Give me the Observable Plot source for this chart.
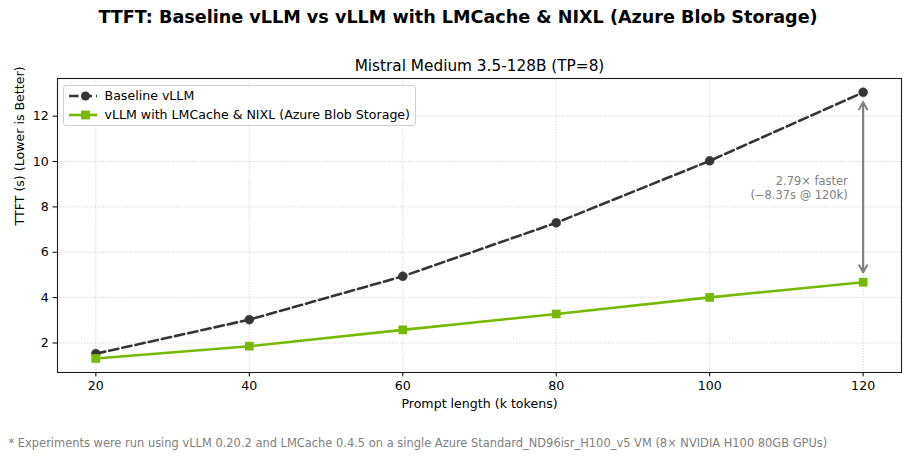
<!DOCTYPE html>
<html>
<head>
<meta charset="utf-8">
<script src="https://cdn.jsdelivr.net/npm/d3@7"></script>
<script src="https://cdn.jsdelivr.net/npm/@observablehq/plot@0.6"></script>
<style>
  html, body { margin: 0; padding: 0; background: #fff; }
  #wrap { position: relative; width: 914px; height: 457px; font-family: "DejaVu Sans", sans-serif; }
  #legend { position: absolute; left: 62.5px; top: 85px; width: 353px; height: 41px; box-sizing: border-box;
    border: 1px solid #d0d0d0; border-radius: 3px; background: rgba(255,255,255,0.85); font-size: 12.6px; color: #000; }
  .row { position: absolute; left: 0; height: 16px; }
  .row svg { position: absolute; left: 4px; top: 0; }
  .row span { position: absolute; left: 41px; white-space: nowrap; line-height: 16px; }
</style>
</head>
<body>
<div id="wrap"></div>
<script>
const prompts = [20, 40, 60, 80, 100, 120];
const baselineTTFT = [1.53, 3.03, 4.94, 7.30, 10.03, 13.05];
const lmcacheTTFT = [1.32, 1.86, 2.58, 3.28, 4.01, 4.68];
const xTicks = [20, 40, 60, 80, 100, 120];
const yTicks = [2, 4, 6, 8, 10, 12];
const seriesNames = ["Baseline vLLM", "vLLM with LMCache & NIXL (Azure Blob Storage)"];
const titleText = "TTFT: Baseline vLLM vs vLLM with LMCache & NIXL (Azure Blob Storage)";
const subtitleText = "Mistral Medium 3.5-128B (TP=8)";
const xLabel = "Prompt length (k tokens)";
const yLabel = "TTFT (s) (Lower is Better)";
const footText = "* Experiments were run using vLLM 0.20.2 and LMCache 0.4.5 on a single Azure Standard_ND96isr_H100_v5 VM (8× NVIDIA H100 80GB GPUs)";
const annotLines = ["2.79× faster", "(−8.37s @ 120k)"];

const base = prompts.map((x, i) => ({x, y: baselineTTFT[i]}));
const cache = prompts.map((x, i) => ({x, y: lmcacheTTFT[i]}));
const last = prompts.length - 1;
const gap = [{x: prompts[last], yb: baselineTTFT[last], yc: lmcacheTTFT[last]}];

const dark = "#353535";
const green = "#76b900";
const gray = "#808080";

const chart = Plot.plot({
  width: 914,
  height: 457,
  marginLeft: 57,
  marginRight: 13,
  marginTop: 78,
  marginBottom: 85,
  style: {fontFamily: "DejaVu Sans, sans-serif", background: "#fff"},
  x: {domain: [15, 125]},
  y: {domain: [0.70, 13.66]},
  marks: [
    Plot.gridX(xTicks, {stroke: "#b8b8b8", strokeOpacity: 0.9, strokeDasharray: "1,1.7", strokeWidth: 0.8}),
    Plot.gridY(yTicks, {stroke: "#b8b8b8", strokeOpacity: 0.9, strokeDasharray: "1,1.7", strokeWidth: 0.8}),
    Plot.frame({stroke: "#1a1a1a", strokeWidth: 1.1}),
    Plot.axisX(xTicks, {tickSize: 4.4, tickPadding: 4.4, fontSize: 12.6, label: null}),
    Plot.axisY(yTicks, {tickSize: 4.4, tickPadding: 4.4, fontSize: 12.6, label: null}),
    Plot.text([xLabel], {frameAnchor: "bottom", dy: 31, lineAnchor: "middle", fontSize: 12.6, text: d => d}),
    Plot.text([yLabel], {frameAnchor: "left", dx: -38, rotate: -90, lineAnchor: "middle", fontSize: 12.6, text: d => d}),
    Plot.text([titleText], {frameAnchor: "top", dx: -21.5, dy: -61, lineAnchor: "middle", fontSize: 17.6, fontWeight: "bold", text: d => d}),
    Plot.text([subtitleText], {frameAnchor: "top", dy: -12, lineAnchor: "middle", fontSize: 15.3, text: d => d}),
    Plot.text([footText], {frameAnchor: "bottom-left", dx: -49, dy: 71, lineAnchor: "middle", textAnchor: "start", fontSize: 11.45, fill: gray, text: d => d}),
    Plot.line(base, {x: "x", y: "y", stroke: dark, strokeWidth: 2.6, strokeDasharray: "9.5,4"}),
    Plot.line(cache, {x: "x", y: "y", stroke: green, strokeWidth: 2.6}),
    Plot.dot(base, {x: "x", y: "y", r: 4.5, fill: dark, stroke: dark, strokeWidth: 0.5}),
    Plot.dot(cache, {x: "x", y: "y", r: 4.9, symbol: "square", fill: green}),
    Plot.arrow(gap, {x1: "x", x2: "x", y1: "yc", y2: "yb", insetStart: 10, insetEnd: 10, stroke: gray, strokeWidth: 2, headLength: 6}),
    Plot.arrow(gap, {x1: "x", x2: "x", y1: "yb", y2: "yc", insetStart: 10, insetEnd: 10, stroke: gray, strokeWidth: 2, headLength: 6}),
    Plot.text(gap, {x: "x", y: d => (d.yb + d.yc) / 2, dx: -15.5, textAnchor: "end", lineAnchor: "middle", lineHeight: 1.2, fontSize: 11.45, fill: gray, text: () => annotLines.join("\n")})
  ]
});

const wrap = document.getElementById("wrap");
wrap.appendChild(chart);

const legend = document.createElement("div");
legend.id = "legend";
const legendItems = [
  {name: seriesNames[0], color: dark, dash: "9.5,4", shape: "circle"},
  {name: seriesNames[1], color: green, dash: null, shape: "square"}
];
legendItems.forEach((it, i) => {
  const row = document.createElement("div");
  row.className = "row";
  row.style.top = (2 + i * 19) + "px";
  const marker = it.shape === "circle"
    ? `<circle cx="17.5" cy="8" r="4.5" fill="${it.color}"/>`
    : `<rect x="13.1" y="3.6" width="8.8" height="8.8" fill="${it.color}"/>`;
  row.innerHTML = `<svg width="30" height="16"><line x1="1" x2="29" y1="8" y2="8" stroke="${it.color}" stroke-width="2.6" ${it.dash ? `stroke-dasharray="${it.dash}"` : ""}/>${marker}</svg><span>${it.name.replace("&", "&amp;")}</span>`;
  legend.appendChild(row);
});
wrap.appendChild(legend);
</script>
</body>
</html>
